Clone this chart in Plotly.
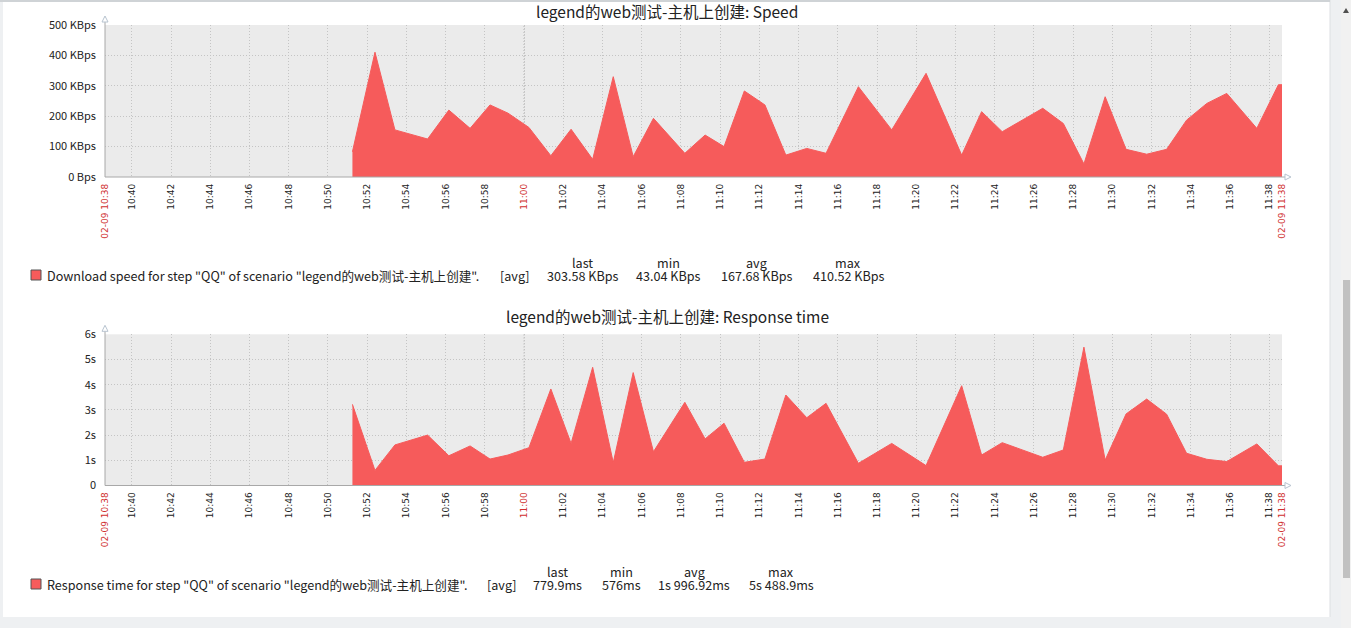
import plotly.graph_objects as go

W, H = 1351, 628
DAY = "2018-02-09 "

# ---- data ----
times = ["10:51:15", "10:52:24", "10:53:25", "10:55:05", "10:56:10", "10:57:15", "10:58:16",
         "10:59:11", "11:00:15", "11:01:22", "11:02:24", "11:03:30", "11:04:33", "11:05:34",
         "11:06:36", "11:08:12", "11:09:14", "11:10:12", "11:11:14", "11:12:17", "11:13:21",
         "11:14:25", "11:15:24", "11:17:03", "11:18:45", "11:20:30", "11:22:19", "11:23:20",
         "11:24:23", "11:26:27", "11:27:30", "11:28:33", "11:29:38", "11:30:42", "11:31:45",
         "11:32:46", "11:33:47", "11:34:49", "11:35:50", "11:37:22", "11:38:28", "11:38:39"]

speed_kbps = [83, 410.5, 155, 125, 220, 160, 237, 210, 163, 70, 157, 58, 330, 67, 193, 78,
              138, 100, 283, 237, 72, 94, 78, 297, 155, 341, 72, 215, 149, 226, 176, 43, 264,
              91, 75, 91, 187, 242, 275, 160, 303.6, 303.6]

response_s = [3.22, 0.6, 1.61, 2.0, 1.18, 1.57, 1.05, 1.21, 1.50, 3.83, 1.67, 4.69, 0.91,
              4.48, 1.34, 3.30, 1.85, 2.47, 0.92, 1.05, 3.59, 2.69, 3.26, 0.88, 1.67, 0.79,
              3.96, 1.21, 1.70, 1.12, 1.41, 5.49, 1.01, 2.84, 3.43, 2.83, 1.28, 1.04, 0.95,
              1.65, 0.78, 0.78]

x_start, x_end = "10:38:38", "11:38:39"
tick_times = ["10:40", "10:42", "10:44", "10:46", "10:48", "10:50", "10:52", "10:54", "10:56",
              "10:58", "11:00", "11:02", "11:04", "11:06", "11:08", "11:10", "11:12", "11:14",
              "11:16", "11:18", "11:20", "11:22", "11:24", "11:26", "11:28", "11:30", "11:32",
              "11:34", "11:36", "11:38"]
red_ticks = ["11:00"]
edge_labels = ["02-09 10:38", "02-09 11:38"]

speed_ticks = [0, 100, 200, 300, 400, 500]
speed_tick_text = ["0 Bps", "100 KBps", "200 KBps", "300 KBps", "400 KBps", "500 KBps"]
resp_ticks = [0, 1, 2, 3, 4, 5, 6]
resp_tick_text = ["0", "1s", "2s", "3s", "4s", "5s", "6s"]

title1 = "legend的web测试-主机上创建: Speed"
title2 = "legend的web测试-主机上创建: Response time"
legend1 = 'Download speed for step "QQ" of scenario "legend的web测试-主机上创建".'
legend2 = 'Response time for step "QQ" of scenario "legend的web测试-主机上创建".'
stat_headers = ["last", "min", "avg", "max"]
speed_stats = ["303.58 KBps", "43.04 KBps", "167.68 KBps", "410.52 KBps"]
resp_stats = ["779.9ms", "576ms", "1s 996.92ms", "5s 488.9ms"]

# ---- styling ----
RED = "#f65b5b"
TXTRED = "#d03030"
BG = "#ebebeb"
GRID = "#c4c4c4"
AXIS = "#a8a8a8"
CJK = "Noto Sans CJK SC"
DOT = "1px,2px"


def px(x):
    return x / W


def py(y):
    return 1 - y / H


xs = [DAY + t for t in times]
tvals = [DAY + x_start] + [DAY + t + ":00" for t in tick_times] + [DAY + x_end]
ttext = ['<span style="color:%s">%s</span>' % (TXTRED, edge_labels[0])]
for t in tick_times:
    ttext.append('<span style="color:%s">%s</span>' % (TXTRED, t) if t in red_ticks else t)
ttext.append('<span style="color:%s">%s</span>' % (TXTRED, edge_labels[1]))

L, R = 105, 1282
charts = [
    dict(top=25, bot=177, y=speed_kbps, yr=[0, 500], tv=speed_ticks, tt=speed_tick_text),
    dict(top=334.3, bot=485.5, y=response_s, yr=[0, 6], tv=resp_ticks, tt=resp_tick_text),
]

fig = go.Figure()
layout = dict(width=W, height=H, margin=dict(l=0, r=0, t=0, b=0), autosize=False,
              paper_bgcolor="white", plot_bgcolor=BG, showlegend=False)
shapes = []

for i, c in enumerate(charts):
    n = "" if i == 0 else str(i + 1)
    fig.add_trace(go.Scatter(x=xs, y=c["y"], mode="lines", fill="tozeroy",
                             fillcolor=RED, line=dict(color=RED, width=1),
                             xaxis="x" + n, yaxis="y" + n, hoverinfo="skip"))
    layout["xaxis" + n] = dict(
        domain=[px(L), px(R)], anchor="y" + n, type="date",
        range=[DAY + x_start, DAY + x_end], tickmode="array", tickvals=tvals, ticktext=ttext,
        tickangle=-90, tickfont=dict(family="DejaVu Sans", size=9, color="#222"),
        showgrid=True, gridcolor=GRID, griddash=DOT, gridwidth=1,
        zeroline=False, showline=False, ticks="", ticklabelstandoff=4, automargin=False,
        fixedrange=True)
    layout["yaxis" + n] = dict(
        domain=[py(c["bot"]), py(c["top"])], anchor="x" + n, range=c["yr"],
        tickmode="array", tickvals=c["tv"], ticktext=c["tt"],
        tickfont=dict(family=CJK, size=11, color="#222"),
        showgrid=True, gridcolor=GRID, griddash=DOT, gridwidth=1,
        zeroline=False, showline=False, ticks="", ticklabelstandoff=8, automargin=False,
        fixedrange=True)
    # slightly darker main grid line at 11:00
    shapes.append(dict(type="line", xref="x" + n, yref="paper",
                       x0=DAY + "11:00:00", x1=DAY + "11:00:00",
                       y0=py(c["bot"]), y1=py(c["top"]),
                       line=dict(color="#b0b0b0", width=1, dash=DOT), layer="below"))
    # axes with arrows
    shapes.append(dict(type="line", xref="paper", yref="paper", x0=px(L), x1=px(L),
                       y0=py(c["bot"]), y1=py(c["top"] - 8), line=dict(color=AXIS, width=1)))
    shapes.append(dict(type="line", xref="paper", yref="paper", x0=px(L), x1=px(R + 8),
                       y0=py(c["bot"]), y1=py(c["bot"]), line=dict(color=AXIS, width=1)))
    tx, ty = L, c["top"] - 8
    shapes.append(dict(type="path", xref="paper", yref="paper",
                       path="M %f %f L %f %f L %f %f Z" % (px(tx - 3), py(ty + 5), px(tx + 3), py(ty + 5), px(tx), py(ty - 1)),
                       line=dict(color="#b8c4d0", width=1), fillcolor="white"))
    rx, ry = R + 8, c["bot"]
    shapes.append(dict(type="path", xref="paper", yref="paper",
                       path="M %f %f L %f %f L %f %f Z" % (px(rx - 5), py(ry - 3), px(rx - 5), py(ry + 3), px(rx + 1), py(ry)),
                       line=dict(color="#b8c4d0", width=1), fillcolor="white"))

# page chrome
chrome = "#eef0f2"
shapes += [
    dict(type="rect", xref="paper", yref="paper", x0=px(1330), x1=1, y0=0, y1=1,
         fillcolor=chrome, line=dict(width=0), layer="below"),
    dict(type="line", xref="paper", yref="paper", x0=px(1330), x1=px(1330), y0=py(617), y1=1,
         line=dict(color="#dcdfe2", width=1)),
    dict(type="rect", xref="paper", yref="paper", x0=0, x1=1, y0=0, y1=py(617),
         fillcolor=chrome, line=dict(width=0), layer="below"),
    dict(type="rect", xref="paper", yref="paper", x0=0, x1=px(3), y0=0, y1=1,
         fillcolor=chrome, line=dict(width=0), layer="below"),
    dict(type="line", xref="paper", yref="paper", x0=0, x1=px(1330), y0=py(1), y1=py(1),
         line=dict(color="#cfd3d6", width=2)),
    dict(type="rect", xref="paper", yref="paper", x0=px(1341), x1=1, y0=0, y1=1,
         fillcolor="#f1f1f1", line=dict(width=0)),
    dict(type="rect", xref="paper", yref="paper", x0=px(1343), x1=px(1350), y0=py(578), y1=py(280),
         fillcolor="#c1c1c1", line=dict(width=0)),
    dict(type="path", xref="paper", yref="paper",
         path="M %f %f L %f %f L %f %f Z" % (px(1343), py(13), px(1349), py(13), px(1346), py(8)),
         fillcolor="#505050", line=dict(width=0)),
]

ann = []
ann.append(dict(text=title1, x=px(667), y=py(10.5), xref="paper", yref="paper", showarrow=False,
                font=dict(family=CJK, size=15.5, color="#222"), xanchor="center", yanchor="middle"))
ann.append(dict(text=title2, x=px(667), y=py(316), xref="paper", yref="paper", showarrow=False,
                font=dict(family=CJK, size=15.5, color="#222"), xanchor="center", yanchor="middle"))

legends = [
    dict(row=275, head=262, text=legend1, avg_x=514, cols=[582, 668, 756, 848], stats=speed_stats),
    dict(row=584, head=571, text=legend2, avg_x=501, cols=[557, 621, 694, 781], stats=resp_stats),
]
FS = 12.6
for lg in legends:
    shapes.append(dict(type="rect", xref="paper", yref="paper", x0=px(31), x1=px(41),
                       y0=py(lg["row"] + 5), y1=py(lg["row"] - 5), fillcolor=RED,
                       line=dict(color="#555555", width=1)))
    ann.append(dict(text=lg["text"], x=px(45), y=py(lg["row"]), xref="paper", yref="paper",
                    showarrow=False, xanchor="left", yanchor="middle",
                    font=dict(family=CJK, size=FS, color="#222")))
    ann.append(dict(text="[avg]", x=px(lg["avg_x"]), y=py(lg["row"]), xref="paper", yref="paper",
                    showarrow=False, xanchor="center", yanchor="middle",
                    font=dict(family=CJK, size=FS, color="#222")))
    for cx, h, s in zip(lg["cols"], stat_headers, lg["stats"]):
        ann.append(dict(text=h, x=px(cx), y=py(lg["head"]), xref="paper", yref="paper",
                        showarrow=False, xanchor="center", yanchor="middle",
                        font=dict(family=CJK, size=FS, color="#222")))
        ann.append(dict(text=s, x=px(cx), y=py(lg["row"]), xref="paper", yref="paper",
                        showarrow=False, xanchor="center", yanchor="middle",
                        font=dict(family=CJK, size=FS, color="#222")))

layout["shapes"] = shapes
layout["annotations"] = ann
fig.update_layout(**layout)
fig.write_html("out.html", config={"displayModeBar": False},
               post_script="document.body.style.margin='0';document.body.style.overflow='hidden';")
